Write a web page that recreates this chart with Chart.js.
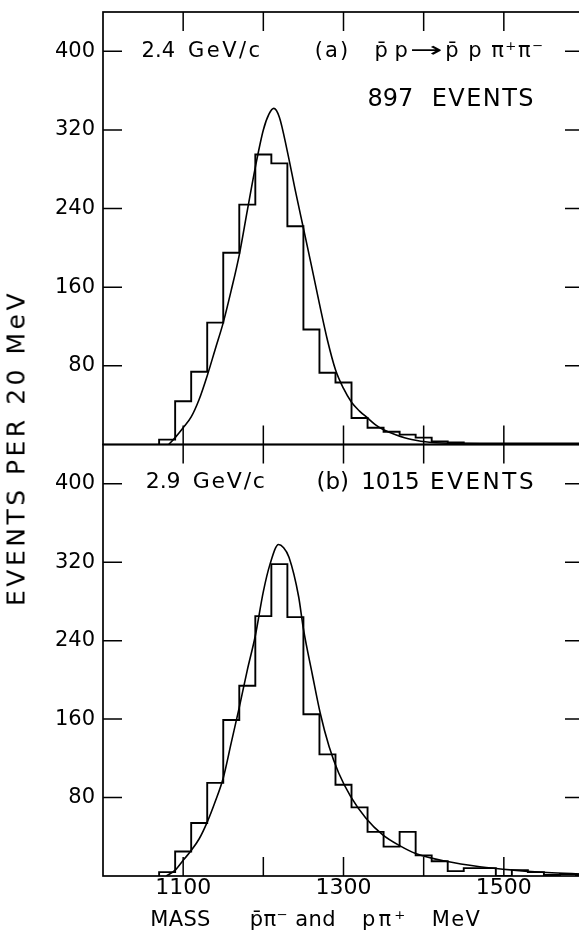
<!DOCTYPE html>
<html>
<head>
<meta charset="utf-8">
<script src="https://cdn.jsdelivr.net/npm/chart.js@4.4.1/dist/chart.umd.min.js"></script>
<style>
html,body{margin:0;padding:0;background:#fff;overflow:hidden;width:579px;height:944px;}
#wrap{position:relative;width:579px;height:944px;overflow:hidden;background:#fff;}
canvas{position:absolute;left:0;}
#ytitle{position:absolute;left:16px;top:448px;transform:translate(-50%,-50%) rotate(-90deg);white-space:nowrap;
  font-family:'DejaVu Sans',sans-serif;font-size:25px;letter-spacing:3.5px;color:#000;}
</style>
</head>
<body>
<div id="wrap">
  <canvas id="cA" width="600" height="452" style="top:0px"></canvas>
  <canvas id="cB" width="600" height="508" style="top:436px"></canvas>
  <div id="ytitle">EVENTS PER 20 MeV</div>
</div>
<script>
// ---------- data ----------
const binStarts = [1070,1090,1110,1130,1150,1170,1190,1210,1230,1250,1270,1290,1310,1330,1350,1370,1390,1410,1430,1450,1470,1490,1510,1530,1550,1570,1590];
const countsA   = [5,44,74,124,195,244,295,286,222,117,73,63,27,17,13,10,7,3,2,1,1,1,1,1,1,1,1];
const countsB   = [4,25,54,95,159,194,265,318,264,165,124,93,70,45,30,45,21,15,5,8,8,0,6,4,1,2,1];

const curveMassA = [1082,1090,1100,1110,1120,1130,1140,1150,1160,1170,1180,1190,1200,1207,1213,1220,1230,1240,1250,1260,1270,1280,1290,1300,1310,1320,1330,1340,1350,1365,1385,1410,1450,1500,1600];
const curveA     = [0,7,17,28,46,70,97,124,157,193,238,282,320,336,342,333,298,258,220,182,143,106,76,57,43,34,27,20,15,10,5,2,1,0.5,0];

const curveMassB = [1079,1090,1100,1110,1120,1130,1140,1150,1160,1170,1180,1190,1200,1208,1219,1225,1232,1244,1250,1261,1271,1282,1294,1309,1328,1349,1370,1390,1428,1470,1512,1554,1600];
const curveB     = [0,6,16,26,38,55,76,100,136,172,210,245,290,317,338,335,325,285,252,206,166,132,105,81,59,42,31,23,15,9.5,6,3.5,2];

const yTickValues  = [80,160,240,320,400];
const xTickValues  = [1100,1200,1300,1400,1500];
const xLabelValues = [1100,1300,1500];
const BIN_WIDTH = 20;

// ---------- helpers ----------
const FONT = "'DejaVu Sans', sans-serif";
function histPoints(counts){
  const pts = [{x: binStarts[0], y: 0}];
  binStarts.forEach((s,i)=>pts.push({x:s, y:counts[i]}));
  pts.push({x: binStarts[binStarts.length-1] + BIN_WIDTH, y: 0});
  return pts;
}
function curvePoints(ms, vs){ return ms.map((m,i)=>({x:m, y:vs[i]})); }

function clusters(text){
  const out=[];
  for (const ch of Array.from(text)){
    if (/[\u0300-\u036f]/.test(ch) && out.length) out[out.length-1]+=ch; else out.push(ch);
  }
  return out;
}
function drawFitted(ctx, text, xL, xR, y, size){
  ctx.font = size + 'px ' + FONT;
  ctx.textBaseline = 'middle'; ctx.textAlign = 'left';
  const cs = clusters(text);
  const ws = cs.map(c=>ctx.measureText(c).width);
  const total = ws.reduce((a,b)=>a+b,0);
  let gap = cs.length>1 ? (xR-xL-total)/(cs.length-1) : 0;
  let x = xL;
  if (gap < 0) { gap = 0; x = (xL + xR - total) / 2; }
  cs.forEach((c,i)=>{ ctx.fillText(c, x, y); x += ws[i] + gap; });
}
function drawStretched(ctx, text, xL, xR, y, size){
  ctx.font = size + 'px ' + FONT;
  ctx.textBaseline = 'middle'; ctx.textAlign = 'left';
  const w = ctx.measureText(text).width;
  ctx.save(); ctx.translate(xL, y); ctx.scale((xR-xL)/w, 1); ctx.fillText(text, 0, 0); ctx.restore();
}

function makeAnnot(items){
  return {
    id:'annot',
    afterDraw(chart){
      const {ctx, scales, chartArea} = chart;
      ctx.save(); ctx.fillStyle = '#000';
      for (const L of items){
        const xl = scales.x.getPixelForValue(L.x0), xr = scales.x.getPixelForValue(L.x1);
        const py = (L.below !== undefined) ? chartArea.bottom + L.below : scales.y.getPixelForValue(L.y);
        if (L.stretch) drawStretched(ctx, L.t, xl, xr, py, L.size);
        else drawFitted(ctx, L.t, xl, xr, py, L.size);
      }
      ctx.restore();
    }
  };
}

const TICK_LEN = 19;
const framePlugin = {
  id:'frame',
  afterDraw(chart){
    const {ctx, chartArea:a, scales:{x,y}} = chart;
    ctx.save();
    ctx.strokeStyle = '#000';
    ctx.lineWidth = 1.7;
    ctx.strokeRect(a.left, a.top, a.right-a.left, a.bottom-a.top);
    ctx.lineWidth = 1.5;
    ctx.beginPath();
    for (const v of yTickValues){
      const py = y.getPixelForValue(v);
      ctx.moveTo(a.left, py); ctx.lineTo(a.left + TICK_LEN, py);
      ctx.moveTo(a.right, py); ctx.lineTo(a.right - TICK_LEN, py);
    }
    for (const v of xTickValues){
      const px = x.getPixelForValue(v);
      ctx.moveTo(px, a.top); ctx.lineTo(px, a.top + TICK_LEN);
      ctx.moveTo(px, a.bottom); ctx.lineTo(px, a.bottom - TICK_LEN);
    }
    ctx.stroke();
    ctx.restore();
  }
};

function baseConfig(counts, cm, cv, showX, padTop, padBottom, annotItems){
  return {
    type:'line',
    data:{datasets:[
      {data: histPoints(counts), stepped:'before', borderColor:'#000', borderWidth:1.9, pointRadius:0, fill:false},
      {data: curvePoints(cm, cv), cubicInterpolationMode:'monotone', borderColor:'#000', borderWidth:1.6, pointRadius:0, fill:false}
    ]},
    options:{
      responsive:false, maintainAspectRatio:false, animation:false,
      layout:{padding:{top:padTop, right:16, bottom:padBottom, left:0}},
      plugins:{legend:{display:false}, tooltip:{enabled:false}, title:{display:false}},
      elements:{point:{radius:0}},
      scales:{
        x:{
          type:'linear', min:1000, max:1600, display: showX,
          grid:{display:false, drawTicks:false}, border:{display:false},
          afterBuildTicks: s => { s.ticks = xLabelValues.map(v=>({value:v})); },
          afterFit: s => { if (showX) { s.height = 68; } else { s.height = 0; } s.paddingLeft = 0; s.paddingRight = 0; },
          ticks:{font:{family:FONT, size:22}, color:'#000', padding:-1, maxRotation:0, autoSkip:false,
                 callback: v => String(v)}
        },
        y:{
          type:'linear', min:0, max:440,
          grid:{display:false, drawTicks:false}, border:{display:false},
          afterBuildTicks: s => { s.ticks = yTickValues.map(v=>({value:v})); },
          afterFit: s => { s.width = 103; s.paddingTop = 0; s.paddingBottom = 0; },
          ticks:{font:{family:FONT, size:21}, color:'#000', padding:8, callback: v => String(v)}
        }
      }
    },
    plugins:[framePlugin, makeAnnot(annotItems)]
  };
}

const annotA = [
  {t:'2.4',   x0:1048, x1:1090, y:400, size:21},
  {t:'GeV/c', x0:1106, x1:1196, y:400, size:21},
  {t:'(a)',   x0:1264, x1:1306, y:400, size:21},
  {t:'p\u0304 p', x0:1339, x1:1380, y:400, size:21},
  {t:'\u2192', x0:1383, x1:1424, y:400, size:21, stretch:true},
  {t:'p\u0304 p \u03c0\u207a\u03c0\u207b', x0:1427, x1:1549, y:400, size:21},
  {t:'897',    x0:1330, x1:1387, y:351, size:24},
  {t:'EVENTS', x0:1410, x1:1537, y:351, size:24}
];
const annotB = [
  {t:'2.9',   x0:1054, x1:1096, y:401, size:22},
  {t:'GeV/c', x0:1112, x1:1202, y:401, size:22},
  {t:'(b)',   x0:1267, x1:1306, y:401, size:23},
  {t:'1015',  x0:1330, x1:1387, y:401, size:23},
  {t:'EVENTS',x0:1408, x1:1537, y:401, size:23},
  {t:'MASS',  x0:1059, x1:1134, below:45, size:21},
  {t:'p\u0304\u03c0\u207b and', x0:1183, x1:1290, below:45, size:21},
  {t:'p\u03c0\u207a', x0:1323, x1:1377, below:45, size:21},
  {t:'MeV',   x0:1410, x1:1470, below:45, size:21}
];

new Chart(document.getElementById('cA'), baseConfig(countsA, curveMassA, curveA, false, 12, 7.5, annotA));
new Chart(document.getElementById('cB'), baseConfig(countsB, curveMassB, curveB, true, 8.5, 0, annotB));
</script>
</body>
</html>
